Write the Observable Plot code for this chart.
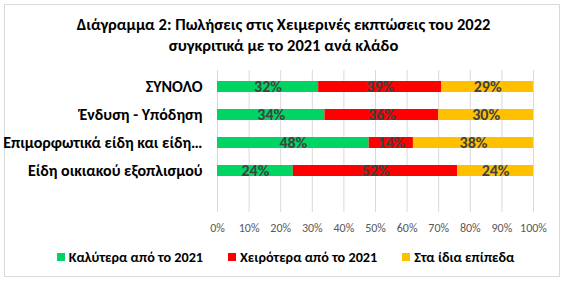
<!DOCTYPE html>
<html>
<head>
<meta charset="utf-8">
<script src="https://cdn.jsdelivr.net/npm/d3@7"></script>
<script src="https://cdn.jsdelivr.net/npm/@observablehq/plot@0.6"></script>
<style>
  html, body { margin: 0; padding: 0; background: #fff; }
  #wrap { position: relative; width: 567px; height: 284px; overflow: hidden;
          font-family: Carlito, Roboto, "Noto Sans", sans-serif; }
  #frame { position: absolute; left: 4px; top: 4px; width: 556px; height: 273px;
           border: 1px solid #d9d9d9; box-sizing: border-box; }
  #title { position: absolute; left: 0; top: 14px; width: 567px; text-align: center;
           font-weight: bold; font-size: 16.5px; line-height: 21px; color: #000; }
  #chart { position: absolute; left: 0; top: 0; }
  #legend { position: absolute; left: 0; top: 248px; width: 571px; display: flex;
            justify-content: center; gap: 25px; font-weight: bold; font-size: 14.2px; color: #000; }
  .item { display: flex; align-items: center; gap: 4px; }
  .sw { width: 8px; height: 8px; display: inline-block; }
</style>
</head>
<body>
<div id="wrap">
  <div id="frame"></div>
  <div id="chart"></div>
  <div id="title">Διάγραμμα 2: Πωλήσεις στις Χειμερινές εκπτώσεις του 2022<br>συγκριτικά με το 2021 ανά κλάδο</div>
  <div id="legend"></div>
</div>
<script>
const categories = ["ΣΥΝΟΛΟ", "Ένδυση - Υπόδηση", "Επιμορφωτικά είδη και είδη…", "Είδη οικιακού εξοπλισμού"];
const seriesNames = ["Καλύτερα από το 2021", "Χειρότερα από το 2021", "Στα ίδια επίπεδα"];
const better = [32, 34, 48, 24];
const worse = [39, 36, 14, 52];
const same = [29, 30, 38, 24];
const xTicks = [0, 10, 20, 30, 40, 50, 60, 70, 80, 90, 100];
const colors = ["#00D463", "#FF0000", "#FFC000"];

const seriesValues = [better, worse, same];
const table = [];
categories.forEach((c, i) => {
  seriesNames.forEach((s, j) => {
    table.push({category: c, series: s, value: seriesValues[j][i]});
  });
});

const font = "Carlito, Roboto, 'Noto Sans', sans-serif";

const chart = Plot.plot({
  width: 567,
  height: 284,
  marginLeft: 217,
  marginRight: 34,
  marginTop: 70,
  marginBottom: 72,
  style: {fontFamily: font, background: "transparent"},
  x: {domain: [0, 100], axis: null, label: null},
  y: {domain: categories, range: [80, 176.5], paddingInner: 0.614, paddingOuter: 0, axis: null, label: null},
  color: {domain: seriesNames, range: colors},
  marks: [
    Plot.ruleX(xTicks, {stroke: "#d9d9d9", strokeWidth: 1}),
    Plot.barX(table, Plot.stackX({x: "value", y: "category", fill: "series"})),
    Plot.textX(table, Plot.stackX({x: "value", y: "category", text: d => d.value + "%",
      fill: "#404040", fontWeight: "bold", fontSize: 16})),
    Plot.axisX({ticks: xTicks, tickFormat: d => d + "%", tickSize: 0, tickPadding: 11,
      fontSize: 12, fill: "#595959", anchor: "bottom", label: null}),
    Plot.axisY({tickSize: 0, tickPadding: 15, fontSize: 16, fontWeight: "bold", fill: "#000", anchor: "left", label: null})
  ]
});
document.getElementById("chart").appendChild(chart);

const legend = document.getElementById("legend");
seriesNames.forEach((s, i) => {
  const item = document.createElement("div");
  item.className = "item";
  const sw = document.createElement("span");
  sw.className = "sw";
  sw.style.background = colors[i];
  const t = document.createElement("span");
  t.textContent = s;
  item.appendChild(sw);
  item.appendChild(t);
  legend.appendChild(item);
});
</script>
</body>
</html>
